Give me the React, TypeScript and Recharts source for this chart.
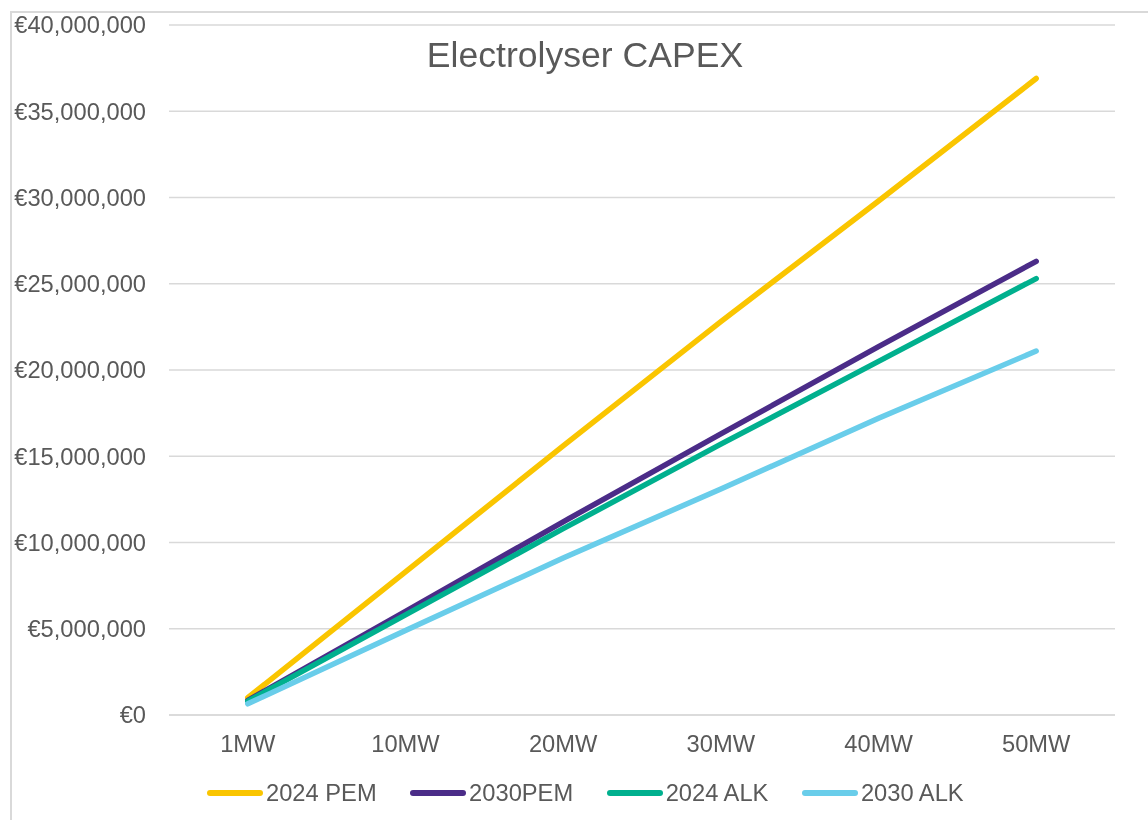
import { LineChart, Line, XAxis, YAxis, CartesianGrid, Legend } from "recharts";

const categories = ["1MW", "10MW", "20MW", "30MW", "40MW", "50MW"];
const pem2024 = [1000000, 8300000, 15600000, 22800000, 29800000, 36900000];
const pem2030 = [850000, 6000000, 11200000, 16300000, 21350000, 26300000];
const alk2024 = [800000, 5800000, 10800000, 15700000, 20500000, 25300000];
const alk2030 = [650000, 4900000, 9100000, 13100000, 17200000, 21100000];
const yTicks = [0, 5000000, 10000000, 15000000, 20000000, 25000000, 30000000, 35000000, 40000000];

const series = [
  { key: "pem2024", name: "2024 PEM", color: "#FAC500", values: pem2024 },
  { key: "pem2030", name: "2030PEM", color: "#4B2C88", values: pem2030 },
  { key: "alk2024", name: "2024 ALK", color: "#00B08E", values: alk2024 },
  { key: "alk2030", name: "2030 ALK", color: "#69CDEA", values: alk2030 },
];

const data = categories.map((cat, i) => {
  const row: Record<string, string | number> = { cat };
  series.forEach((s) => {
    row[s.key] = s.values[i];
  });
  return row;
});

const FONT = "'Liberation Sans', Arial, sans-serif";
const TEXT = "#595959";
const GRID = "#d9d9d9";

const euro = (v: number) => "€" + v.toLocaleString("en-US");

function LegendRow() {
  return (
    <div
      style={{
        display: "flex",
        alignItems: "center",
        height: 26,
        paddingLeft: 199,
        fontFamily: FONT,
        fontSize: 23.7,
        color: TEXT,
      }}
    >
      {series.map((s) => (
        <div key={s.key} style={{ display: "flex", alignItems: "center", marginRight: 33.5 }}>
          <div style={{ width: 56, height: 6, borderRadius: 3, background: s.color, marginRight: 3 }} />
          <span style={{ lineHeight: "26px" }}>{s.name}</span>
        </div>
      ))}
    </div>
  );
}

export default function App() {
  return (
    <div style={{ position: "relative", width: 1140, height: 804, overflow: "hidden", background: "#fff" }}>
      {/* chart frame, only its top and left edges fall inside the page */}
      <div
        style={{
          position: "fixed",
          left: 10,
          top: 11,
          width: 1300,
          height: 1000,
          borderLeft: `2px solid ${GRID}`,
          borderTop: `2px solid ${GRID}`,
        }}
      />
      <LineChart
        width={1140}
        height={804}
        data={data}
        margin={{ top: 17, right: 33, left: 0, bottom: 6 }}
        style={{ position: "absolute", left: 0, top: 0 }}
      >
        <CartesianGrid vertical={false} stroke={GRID} strokeWidth={1.5} />
        <XAxis
          dataKey="cat"
          height={65}
          padding={{ left: 78.8, right: 78.8 }}
          axisLine={{ stroke: GRID, strokeWidth: 1.5 }}
          tickLine={false}
          tickSize={0}
          tickMargin={20}
          tick={{ fill: TEXT, fontSize: 23.7, fontFamily: FONT }}
        />
        <YAxis
          width={161}
          domain={[0, 40000000]}
          ticks={yTicks}
          tickFormatter={euro}
          axisLine={false}
          tickLine={false}
          tickSize={0}
          tickMargin={23}
          tick={{ fill: TEXT, fontSize: 23.7, fontFamily: FONT }}
        />
        <Legend
          verticalAlign="bottom"
          content={() => <LegendRow />}
          wrapperStyle={{ left: 0, width: 1140, height: 26 }}
        />
        {series.map((s) => (
          <Line
            key={s.key}
            dataKey={s.key}
            name={s.name}
            stroke={s.color}
            strokeWidth={5.5}
            strokeLinecap="round"
            strokeLinejoin="round"
            dot={false}
            activeDot={false}
            isAnimationActive={false}
          />
        ))}
      </LineChart>
      <svg
        width={1140}
        height={100}
        style={{ position: "absolute", left: 0, top: 0, pointerEvents: "none" }}
      >
        <text x={577} y={58.7} textAnchor="middle" fill={TEXT} fontSize={35.6} fontFamily={FONT}>
          Electrolyser CAPEX
        </text>
      </svg>
    </div>
  );
}
